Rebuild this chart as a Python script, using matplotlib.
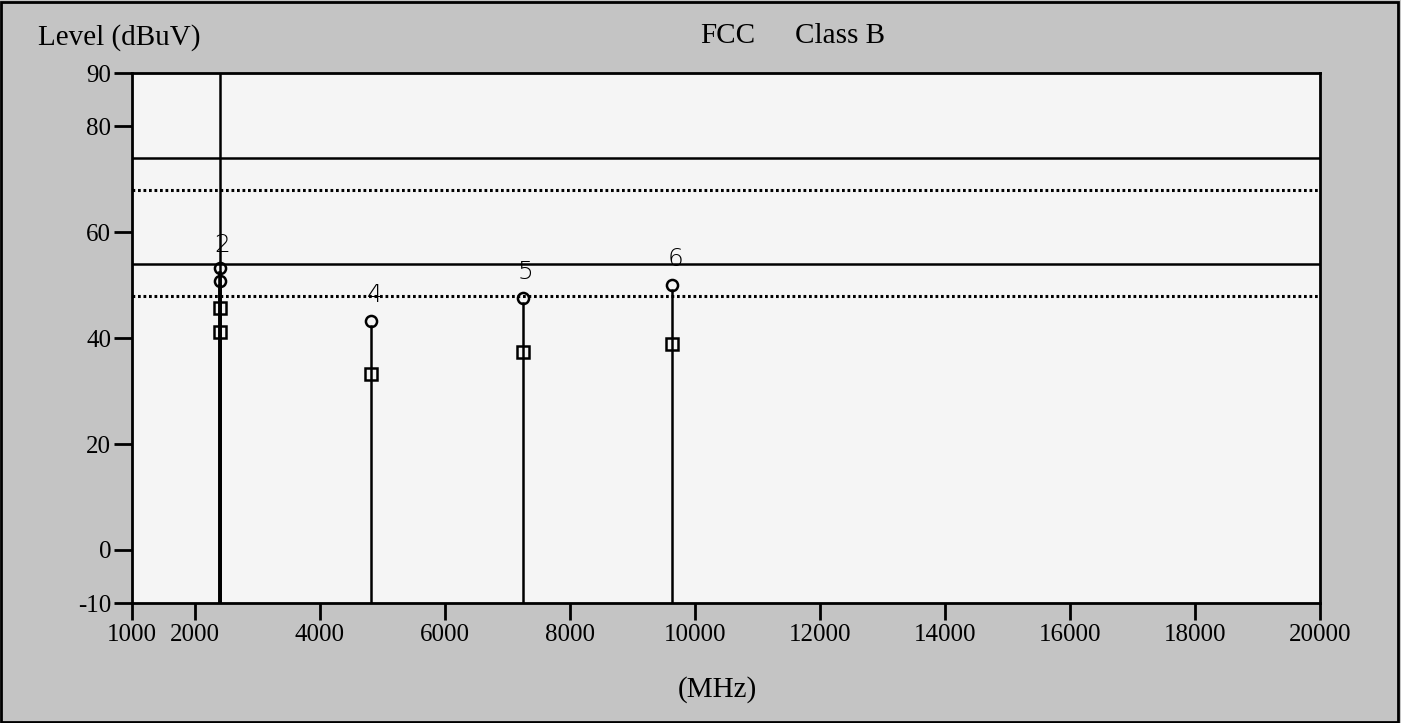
import matplotlib
matplotlib.use("Agg")
import matplotlib.pyplot as plt
from matplotlib.patches import Rectangle

# ---- data ----
x_ticks = [1000, 2000, 4000, 6000, 8000, 10000, 12000, 14000, 16000, 18000, 20000]
y_ticks = [-10, 0, 20, 40, 60, 80, 90]

limit_solid = [74, 54]      # peak limits
limit_dotted = [68, 48]     # margin lines

fund_freq = 2400            # fundamental marker line (off scale)

# markers near the fundamental (labels hidden except "2")
near_freqs = [2400, 2400]
near_peak = [53.3, 50.8]
near_avg = [45.7, 41.1]

harm_labels = ["4", "5", "6"]
harm_freqs = [4830, 7250, 9640]
harm_peak = [43.2, 47.6, 50.0]
harm_avg = [33.2, 37.3, 38.9]

serif = ["Liberation Serif", "DejaVu Serif"]
W, H = 1401, 723

fig = plt.figure(figsize=(W / 100, H / 100), dpi=100)
fig.patch.set_facecolor("#c4c4c4")
ax = fig.add_axes([132 / W, 1 - 603 / H, (1320 - 132) / W, (603 - 73) / H])
ax.set_facecolor("#f5f5f5")
ax.set_xlim(1000, 20000)
ax.set_ylim(-10, 90)

for v in limit_solid:
    ax.axhline(v, color="black", lw=1.8)
for v in limit_dotted:
    ax.axhline(v, color="black", lw=2.2, ls=(0, (0.9, 0.9)))

# fundamental line off the top
ax.plot([fund_freq, fund_freq], [-10, 95], color="black", lw=1.8)


def stem(f, pk, av, lw=1.8):
    ax.plot([f, f], [-10, pk - 1.0], color="black", lw=lw, zorder=3)
    ax.plot([f], [pk], marker="o", ms=8, mfc="none", mec="black", mew=1.8, zorder=4)
    ax.plot([f], [av], marker="s", ms=8.5, mfc="none", mec="black", mew=1.8, zorder=4)


for f, pk, av in zip(near_freqs, near_peak, near_avg):
    stem(f, pk, av, lw=2.6)
ax.text(near_freqs[0] + 50, near_peak[0] + 1.9, "2", ha="center", va="bottom",
        fontsize=18, family="DejaVu Sans", fontweight="light")

for lab, f, pk, av in zip(harm_labels, harm_freqs, harm_peak, harm_avg):
    stem(f, pk, av)
    ax.text(f + 50, pk + 2.6, lab, ha="center", va="bottom", fontsize=18,
            family="DejaVu Sans", fontweight="light")

ax.set_xticks(x_ticks)
ax.set_xticklabels([str(t) for t in x_ticks], family=serif, fontsize=18)
ax.set_yticks(y_ticks)
ax.set_yticklabels([str(t) for t in y_ticks], family=serif, fontsize=18)
ax.tick_params(axis="x", direction="out", length=12, width=2, color="black", pad=3)
ax.tick_params(axis="y", direction="out", length=13, width=2, color="black", pad=2)
for s in ax.spines.values():
    s.set_linewidth(2)

fig.text(38 / W, 1 - 38 / H, "Level (dBuV)", family=serif, fontsize=21, va="center", ha="left")
fig.text(700 / W, 1 - 36 / H, "FCC", family=serif, fontsize=21, va="center", ha="left")
fig.text(795 / W, 1 - 36 / H, "Class B", family=serif, fontsize=21, va="center", ha="left")
fig.text(717 / W, 1 - 690 / H, "(MHz)", family=serif, fontsize=21, va="center", ha="center")

fig.add_artist(Rectangle((0.001, 0.002), 0.997, 0.995, transform=fig.transFigure,
                         fill=False, edgecolor="black", lw=2))

fig.savefig("out.png", dpi=100, facecolor=fig.get_facecolor())
